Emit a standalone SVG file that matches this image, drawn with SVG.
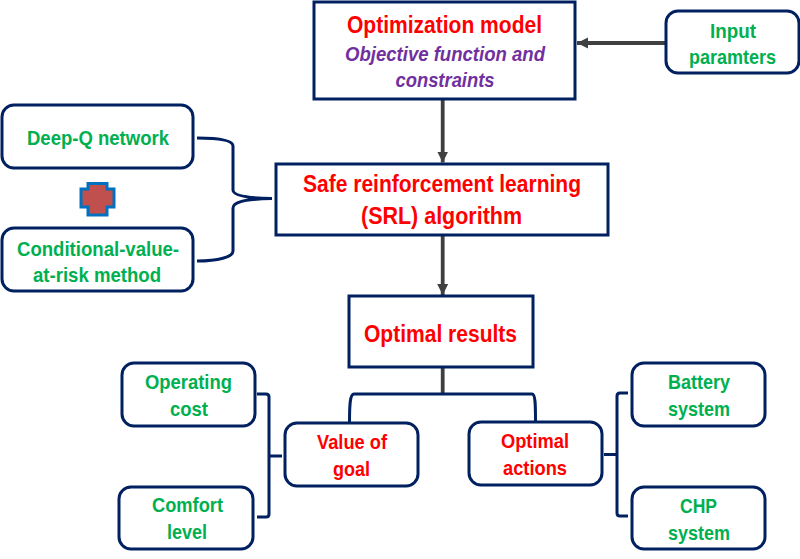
<svg xmlns="http://www.w3.org/2000/svg" width="800" height="559" viewBox="0 0 800 559">
<style>
.box{fill:#fff;stroke:#002060;stroke-width:3}
.line{fill:none;stroke:#002060;stroke-width:3}
.arrow{fill:none;stroke:#404040;stroke-width:3.800}
text{font-family:"Liberation Sans",Arial,sans-serif;font-weight:bold;text-anchor:middle;font-size:21px}
.big{font-size:23px}
.g{fill:#00b050}.r{fill:#ff0000}.p{fill:#7030a0;font-style:italic}
</style>
<defs>
<marker id="head" markerUnits="userSpaceOnUse" markerWidth="12" markerHeight="12" refX="11" refY="6" orient="auto"><path d="M0 0.500L11 6L0 11.500z" fill="#404040"/></marker>
</defs>
<rect width="800" height="559" fill="#fff"/>
<g id="connectors">
<path class="arrow" d="M666 43H577" marker-end="url(#head)"/>
<path class="arrow" d="M442.700 100V162.500" marker-end="url(#head)"/>
<path class="arrow" d="M442.700 236V295" marker-end="url(#head)"/>
<path class="arrow" d="M442.700 368V395"/>
<path class="line" d="M197 138C218 138 233 140 233 146V190C233 195 245 198 272 198.500C245 199 233 202 233 208V251C233 257 218 261 197 261"/>
<path class="line" d="M349.500 422C349.500 405 350 394 354 394H532C535.500 394 535.500 405 535.500 421"/>
<path class="line" d="M257 394H266Q269 394 269 397V514Q269 517 266 517H257M269 456H282"/>
<path class="line" d="M628 393H620Q617 393 617 396V513Q617 516 620 516H628M604 454.500H617"/>
</g>
<g id="plus"><path d="M88 183.500H107V189H114V207H107V215H88V207H81V189H88z" fill="#c0504d" stroke="#0070c0" stroke-width="3"/></g>
<g id="optimization-model"><rect class="box" x="314" y="2" width="261" height="97"/>
<text class="r big" x="444.500" y="33" textLength="195" lengthAdjust="spacingAndGlyphs">Optimization model</text>
<text class="p" x="445" y="61" textLength="200" lengthAdjust="spacingAndGlyphs">Objective function and</text>
<text class="p" x="445" y="87" textLength="99" lengthAdjust="spacingAndGlyphs">constraints</text></g>
<g id="input-parameters"><rect class="box" x="666" y="11" width="133" height="62" rx="12"/>
<text class="g" x="733" y="38" textLength="46" lengthAdjust="spacingAndGlyphs">Input</text><text class="g" x="732.500" y="64" textLength="87" lengthAdjust="spacingAndGlyphs">paramters</text></g>
<g id="srl"><rect class="box" x="276" y="164" width="332" height="71"/>
<text class="r big" x="442" y="192" textLength="278" lengthAdjust="spacingAndGlyphs">Safe reinforcement learning</text>
<text class="r big" x="441.500" y="224" textLength="161" lengthAdjust="spacingAndGlyphs">(SRL) algorithm</text></g>
<g id="deep-q"><rect class="box" x="2" y="105" width="191" height="63" rx="12"/>
<text class="g" x="98" y="145" textLength="142" lengthAdjust="spacingAndGlyphs">Deep-Q network</text></g>
<g id="cvar"><rect class="box" x="2" y="228" width="191" height="63" rx="12"/>
<text class="g" x="98" y="256" textLength="162" lengthAdjust="spacingAndGlyphs">Conditional-value-</text><text class="g" x="97" y="282" textLength="128" lengthAdjust="spacingAndGlyphs">at-risk method</text></g>
<g id="optimal-results"><rect class="box" x="349" y="296" width="184" height="71"/>
<text class="r big" x="440.500" y="342" textLength="153" lengthAdjust="spacingAndGlyphs">Optimal results</text></g>
<g id="operating-cost"><rect class="box" x="122" y="363" width="133" height="63" rx="12"/>
<text class="g" x="188.500" y="389" textLength="87" lengthAdjust="spacingAndGlyphs">Operating</text><text class="g" x="189" y="416" textLength="38" lengthAdjust="spacingAndGlyphs">cost</text></g>
<g id="comfort-level"><rect class="box" x="119" y="487" width="134" height="62" rx="12"/>
<text class="g" x="187.500" y="512" textLength="71" lengthAdjust="spacingAndGlyphs">Comfort</text><text class="g" x="187" y="539" textLength="40" lengthAdjust="spacingAndGlyphs">level</text></g>
<g id="value-of-goal"><rect class="box" x="285" y="423" width="133" height="63" rx="12"/>
<text class="r" x="352" y="449" textLength="70" lengthAdjust="spacingAndGlyphs">Value of</text><text class="r" x="351.500" y="476" textLength="37" lengthAdjust="spacingAndGlyphs">goal</text></g>
<g id="optimal-actions"><rect class="box" x="469" y="422" width="133" height="63" rx="12"/>
<text class="r" x="535" y="448" textLength="68" lengthAdjust="spacingAndGlyphs">Optimal</text><text class="r" x="535" y="475" textLength="64" lengthAdjust="spacingAndGlyphs">actions</text></g>
<g id="battery"><rect class="box" x="632" y="363" width="133" height="63" rx="12"/>
<text class="g" x="699" y="389" textLength="62" lengthAdjust="spacingAndGlyphs">Battery</text><text class="g" x="699" y="416" textLength="62" lengthAdjust="spacingAndGlyphs">system</text></g>
<g id="chp"><rect class="box" x="632" y="487" width="133" height="62" rx="12"/>
<text class="g" x="698.500" y="513" textLength="37" lengthAdjust="spacingAndGlyphs">CHP</text><text class="g" x="699" y="540" textLength="62" lengthAdjust="spacingAndGlyphs">system</text></g>
</svg>
